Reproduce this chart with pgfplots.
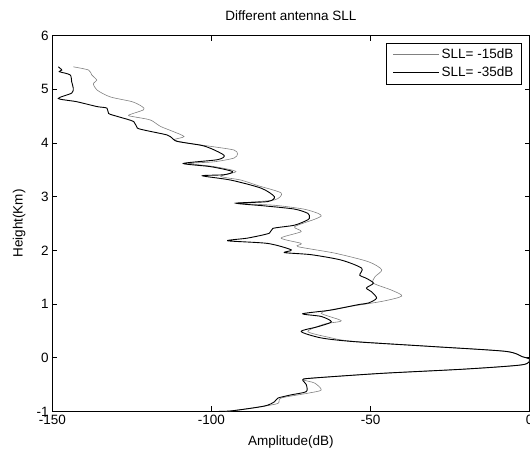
\documentclass[border=0pt]{standalone}
\usepackage{pgfplots}
\pgfplotsset{compat=1.18}
\usepackage{fontspec}
\setmainfont{Liberation Sans}

\definecolor{sllgray}{RGB}{128,128,128}

\begin{document}
\begin{tikzpicture}
\begin{axis}[
    scale only axis,
    width=477.7pt, height=376pt,
    xmin=-150, xmax=0,
    ymin=-1, ymax=6,
    xtick={-150,-100,-50,0},
    xticklabels={-150,-100,-50,0},
    ytick={-1,0,1,2,3,4,5,6},
    yticklabels={-1,0,1,2,3,4,5,6},
    tick align=inside,
    major tick length=5pt,
    axis line style={line width=0.8pt},
    tick style={line width=0.6pt, black},
    font=\fontsize{13.5}{16}\selectfont,
    title={Different antenna SLL},
    title style={at={(axis description cs:0.5,1.024)}, anchor=base, inner sep=0pt},
    xlabel={Amplitude(dB)},
    ylabel={Height(Km)},
    xlabel style={at={(axis description cs:0.5,-0.0912)}, anchor=base, inner sep=0pt},
    ylabel style={at={(axis description cs:-0.062,0.5)}, anchor=base, inner sep=0pt},
    legend cell align=left,
    legend style={at={(axis description cs:0.983,0.981)}, anchor=north east,
        draw=black, line width=0.6pt, inner xsep=6pt, inner ysep=4pt,
        row sep=2.5pt, font=\fontsize{13.5}{16}\selectfont},
    legend image code/.code={\draw[#1] (0pt,0pt) -- (46pt,0pt);},
]
% SLL = -15 dB (gray)
\addplot[sllgray, line width=0.6pt, smooth, tension=0.45] coordinates {
(-97,-1.0) (-93.9,-0.99) (-84.4,-0.91) (-79.1,-0.85) (-78.1,-0.75)
(-69.7,-0.66) (-65.5,-0.60) (-67.6,-0.47) (-71.3,-0.41) (-68.6,-0.38)
(-46.5,-0.29) (-20.2,-0.21) (-2.3,-0.13) (0,-0.03) (-2.3,0.02)
(-7.6,0.12) (-30.7,0.21) (-56,0.31) (-63,0.38) (-69.7,0.49)
(-64.4,0.63) (-59.2,0.69) (-65.5,0.83) (-60.2,0.92) (-46.5,1.05)
(-40.2,1.15) (-43.4,1.26) (-49.1,1.39) (-48.6,1.51) (-46.5,1.64)
(-50.7,1.79) (-61.3,1.95) (-72.8,2.07) (-71.8,2.13) (-78.1,2.23)
(-71.8,2.35) (-73.9,2.44) (-67.6,2.58) (-65.5,2.64) (-66.5,2.69)
(-71,2.77) (-80,2.84) (-91,2.88) (-80.2,2.94) (-78.1,3.07)
(-85,3.2) (-90.7,3.31) (-97.1,3.38) (-92.3,3.47) (-99,3.56)
(-107,3.62) (-99.2,3.65) (-92.9,3.72) (-91.8,3.80) (-92.9,3.87)
(-99.2,3.93) (-107.6,4.0) (-111.8,4.06) (-108.6,4.12) (-111.8,4.21)
(-116,4.31) (-119.2,4.43) (-124.4,4.49) (-126,4.52) (-121.3,4.62)
(-121.8,4.68) (-124.9,4.77) (-131.8,4.86) (-136,4.99) (-137.1,5.11)
(-136,5.17) (-137.6,5.27) (-138.6,5.36) (-143.4,5.42)
};
\addlegendentry{SLL= -15dB}
% SLL = -35 dB (black)
\addplot[black, line width=0.9pt, smooth, tension=0.45] coordinates {
(-100,-1.0) (-93.9,-0.99) (-83.4,-0.90) (-80.2,-0.82) (-79.1,-0.75)
(-74.9,-0.69) (-70.2,-0.63) (-70.2,-0.50) (-71.3,-0.41) (-68.6,-0.38)
(-46.5,-0.29) (-20.2,-0.21) (-2.3,-0.13) (0,-0.03) (-2.3,0.02)
(-7.6,0.12) (-30.7,0.21) (-55,0.30) (-65.5,0.37) (-71.8,0.49)
(-66.5,0.58) (-62.3,0.67) (-65.5,0.77) (-71.3,0.82) (-62.3,0.89)
(-53.9,0.99) (-50.7,1.02) (-48.1,1.11) (-49.7,1.23) (-51.3,1.30)
(-49.1,1.39) (-51.3,1.48) (-53.4,1.54) (-52.8,1.67) (-59.2,1.82)
(-68.6,1.92) (-77.1,1.96) (-74.9,2.01) (-82.3,2.13) (-94.9,2.18)
(-88.6,2.23) (-81.8,2.32) (-80.7,2.41) (-73.9,2.47) (-69.7,2.57)
(-69.2,2.62) (-69.7,2.69) (-73.9,2.77) (-83.4,2.83) (-92.3,2.88)
(-82.3,2.91) (-80.2,3.0) (-84.4,3.16) (-93.9,3.31) (-102.8,3.39)
(-96,3.41) (-93.4,3.47) (-100.2,3.56) (-108.8,3.62) (-98.1,3.69)
(-96,3.77) (-100.2,3.90) (-103.4,3.96) (-110.7,4.03) (-112.3,4.09)
(-113.9,4.15) (-120.2,4.23) (-123.3,4.28) (-124.4,4.40) (-129.2,4.49)
(-132.3,4.55) (-132.8,4.65) (-136,4.68) (-142.3,4.77) (-148.1,4.83)
(-143.9,4.93) (-143.4,5.02) (-143.9,5.14) (-144.4,5.27) (-147.8,5.33)
(-147,5.36) (-148.1,5.42)
};
\addlegendentry{SLL= -35dB}
\end{axis}
\pgfresetboundingbox
\path[use as bounding box] (-52.3pt,-39.3pt) rectangle (478.0pt,411.7pt);
\end{tikzpicture}
\end{document}
